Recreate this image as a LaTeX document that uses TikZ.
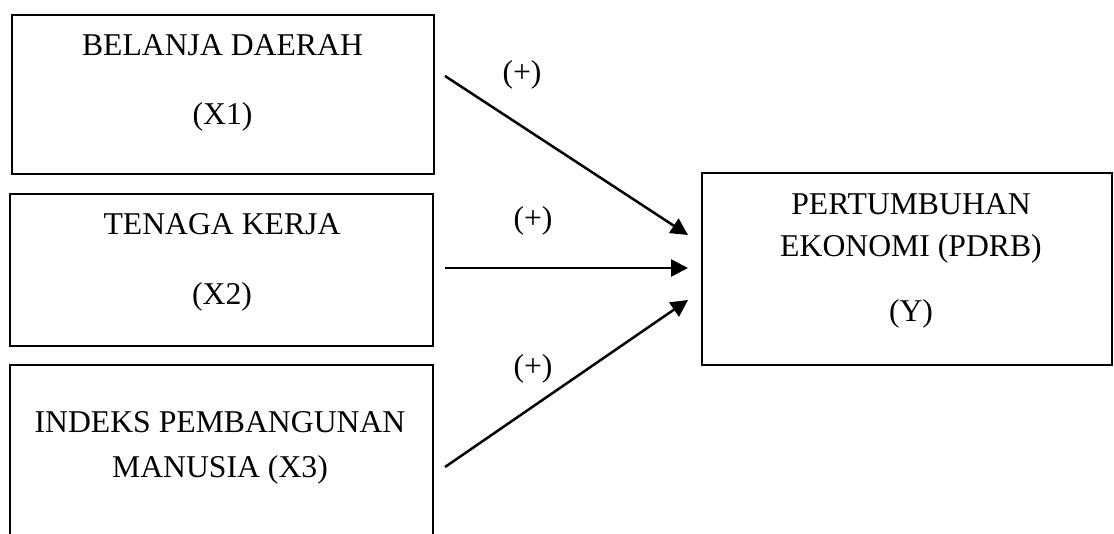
\documentclass[tikz,border=0pt]{standalone}
\usepackage{fontspec}
\setmainfont{Liberation Serif}
\usetikzlibrary{arrows.meta}
\tikzset{
  box/.style={draw, rectangle, line width=1.5pt, inner sep=0pt},
  txt/.style={anchor=base, inner sep=0pt, font=\fontsize{31.7}{38}\selectfont},
  conn/.style={line width=2.5pt, -{Triangle[length=17pt,width=17pt]}}
}
\begin{document}
\begin{tikzpicture}[x=1pt,y=-1pt]
\useasboundingbox (0,0) rectangle (1114,534);
\clip (0,0) rectangle (1114,534);
% boxes
\node[box, minimum width=422pt, minimum height=159pt] (b1) at (223,94.5) {};
\node[box, minimum width=423pt, minimum height=152pt] (b2) at (221.5,270) {};
\node[box, minimum width=423pt, minimum height=235pt] (b3) at (221.5,482.5) {};
\node[box, minimum width=410pt, minimum height=192pt] (by) at (907,269) {};
% texts
\node[txt] (t1a) at (222.5,56) {BELANJA DAERAH};
\node[txt] (t1b) at (222.5,125) {(X1)};
\node[txt] (t2a) at (222,235) {TENAGA KERJA};
\node[txt] (t2b) at (222,305) {(X2)};
\node[txt] (t3a) at (220,433) {INDEKS PEMBANGUNAN};
\node[txt] (t3b) at (220,478) {MANUSIA (X3)};
\node[txt] (tya) at (911,215) {PERTUMBUHAN};
\node[txt] (tyb) at (911,257) {EKONOMI (PDRB)};
\node[txt] (tyc) at (911,322) {(Y)};
% connectors
\coordinate (s1) at (445,76);
\coordinate (e1) at (688,235);
\coordinate (s2) at (445,268);
\coordinate (e2) at (688,268);
\coordinate (s3) at (445,467);
\coordinate (e3) at (688,300);
\draw[conn] (s1) -- (e1);
\draw[conn] (s2) -- (e2);
\draw[conn] (s3) -- (e3);
% labels
\node[txt] (l1) at (522,83) {(+)};
\node[txt] (l2) at (533,229) {(+)};
\node[txt] (l3) at (533,377) {(+)};
\end{tikzpicture}
\end{document}
